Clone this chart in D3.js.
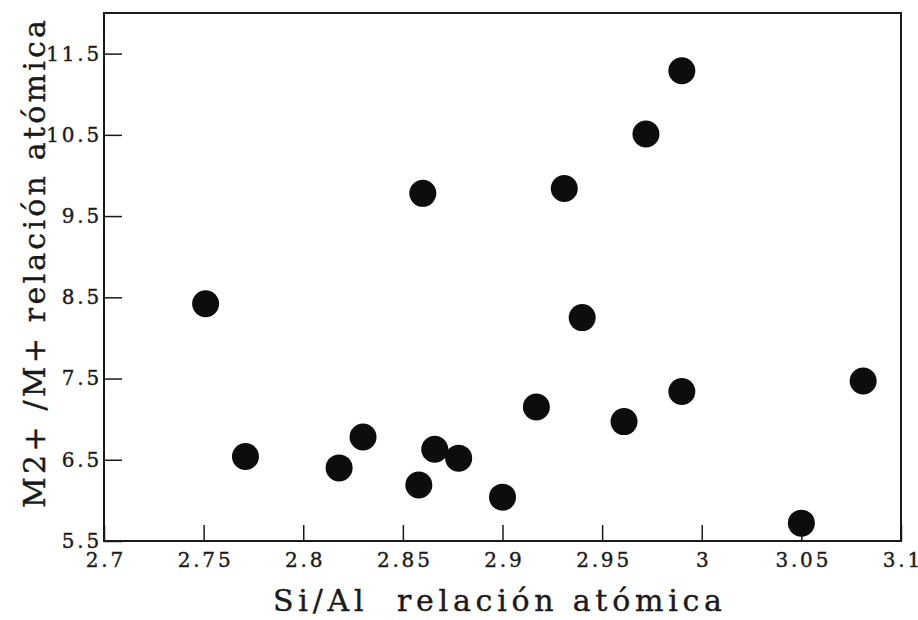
<!DOCTYPE html>
<html>
<head>
<meta charset="utf-8">
<script src="https://cdn.jsdelivr.net/npm/d3@7"></script>
<style>
  html, body { margin: 0; padding: 0; background: #fff; }
  svg { display: block; }
  text { font-family: "DejaVu Serif", "Liberation Serif", serif; fill: #1a1a1a; white-space: pre; }
</style>
</head>
<body>
<svg id="chart" width="918" height="620"></svg>
<script>
// Si/Al atomic ratio (x) against M2+/M+ atomic ratio (y)
const siAl = [2.751, 2.771, 2.818, 2.830, 2.858, 2.866, 2.878, 2.860, 2.900,
              2.917, 2.931, 2.940, 2.961, 2.972, 2.990, 2.990, 3.050, 3.081];
const m2m1 = [8.42, 6.54, 6.40, 6.78, 6.19, 6.63, 6.52, 9.78, 6.04,
              7.15, 9.84, 8.25, 6.97, 10.51, 11.29, 7.34, 5.72, 7.47];

const xTicks = [2.7, 2.75, 2.8, 2.85, 2.9, 2.95, 3.0, 3.05, 3.1];
const xTickLabels = ["2.7", "2.75", "2.8", "2.85", "2.9", "2.95", "3", "3.05", "3.1"];
const yTicks = [5.5, 6.5, 7.5, 8.5, 9.5, 10.5, 11.5];
const yTickLabels = ["5.5", "6.5", "7.5", "8.5", "9.5", "10.5", "11.5"];

const xTitle = "Si/Al  relación atómica";
const yTitle = "M2+ /M+ relación atómica";

const svg = d3.select("#chart");
const plotLeft = 104, plotRight = 901, plotTop = 13, plotBottom = 541;

const x = d3.scaleLinear().domain([2.7, 3.1]).range([plotLeft, plotRight]);
const y = d3.scaleLinear().domain([5.5, 12.0]).range([plotBottom, plotTop]);

// frame
svg.append("rect")
  .attr("x", plotLeft).attr("y", plotTop)
  .attr("width", plotRight - plotLeft).attr("height", plotBottom - plotTop)
  .attr("fill", "none").attr("stroke", "#1a1a1a").attr("stroke-width", 2);

// bottom axis: inward ticks
const xAxis = d3.axisBottom(x).tickValues(xTicks)
  .tickFormat((d, i) => xTickLabels[i]).tickSizeInner(-16).tickSizeOuter(0).tickPadding(12);
const gx = svg.append("g").attr("transform", `translate(0,${plotBottom})`).call(xAxis);
gx.select(".domain").remove();
gx.selectAll(".tick line").attr("stroke", "#1a1a1a").attr("stroke-width", 1.5);
gx.selectAll(".tick text")
  .attr("font-size", 20).attr("letter-spacing", 2.8).attr("dx", "0.07em")
  .attr("font-family", "DejaVu Serif").attr("fill", "#222")
  .attr("stroke", "#222").attr("stroke-width", 0.4);

// left axis: inward ticks
const yAxis = d3.axisLeft(y).tickValues(yTicks)
  .tickFormat((d, i) => yTickLabels[i]).tickSizeInner(-18).tickSizeOuter(0).tickPadding(2);
const gy = svg.append("g").attr("transform", `translate(${plotLeft},0)`).call(yAxis);
gy.select(".domain").remove();
gy.selectAll(".tick line").attr("stroke", "#1a1a1a").attr("stroke-width", 1.5);
gy.selectAll(".tick text")
  .attr("font-size", 20).attr("letter-spacing", 2.8)
  .attr("font-family", "DejaVu Serif").attr("fill", "#222")
  .attr("stroke", "#222").attr("stroke-width", 0.4);

// points
svg.append("g").selectAll("circle")
  .data(siAl.map((v, i) => [v, m2m1[i]]))
  .join("circle")
  .attr("cx", d => x(d[0]))
  .attr("cy", d => y(d[1]))
  .attr("r", 13.5)
  .attr("fill", "#0d0d0d");

// axis titles
svg.append("text")
  .attr("x", 273).attr("y", 611)
  .attr("font-size", 30)
  .attr("stroke", "#1a1a1a").attr("stroke-width", 0.4)
  .attr("textLength", 449).attr("lengthAdjust", "spacing")
  .text(xTitle);

svg.append("text")
  .attr("transform", "translate(45,508) rotate(-90)")
  .attr("font-size", 30)
  .attr("stroke", "#1a1a1a").attr("stroke-width", 0.4)
  .attr("textLength", 488).attr("lengthAdjust", "spacing")
  .text(yTitle);
</script>
</body>
</html>
